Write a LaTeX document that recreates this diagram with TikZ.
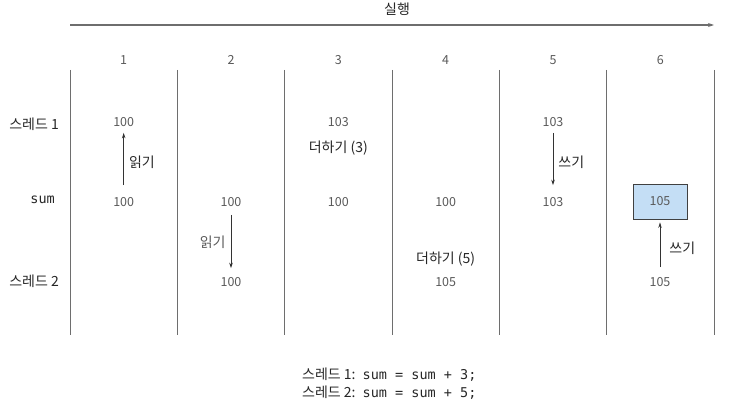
\documentclass[tikz,border=0pt]{standalone}
\usepackage{fontspec}
\setmainfont{Noto Sans CJK KR}
\setmonofont{DejaVu Sans Mono}
\usetikzlibrary{positioning,arrows.meta}
\definecolor{linegray}{HTML}{6E6E6E}
\definecolor{textgray}{HTML}{595959}
\definecolor{boxblue}{HTML}{C4DEF5}

\begin{document}
\begin{tikzpicture}[x=1pt, y=-1pt,
  val/.style = {text = textgray, font = \fontsize{12.5}{14}\selectfont, inner sep = 1pt},
  lbl/.style = {text = black!85, font = \fontsize{14}{16}\selectfont, inner sep = 1pt},
  code/.style = {text = black!85, font = \fontsize{14}{16}\selectfont, inner sep = 1pt, anchor = west},
  op/.style = {-{Stealth[length = 5.5pt, width = 3.5pt]}, line width = 0.8pt, black!80}]
\useasboundingbox (0,0) rectangle (753,417);

% time axis
\coordinate (tl) at (70,25);
\coordinate (tr) at (714,25);
\draw[-{Stealth[length = 6pt, width = 4pt]}, linegray, line width = 1.3pt] (tl) -- (tr);
\node[lbl] (run) at (397,9) {실행};

% columns
\foreach \i in {0,...,6}
  \draw[linegray, line width = 0.9pt] (70+107.33*\i,70) -- (70+107.33*\i,335);
\foreach \i in {1,...,6}
  \node[val] (h\i) at (16.33+107.33*\i,60) {\i};

% rows
\node[lbl, anchor = east] (r1) at (60,124) {스레드 1};
\node[lbl, anchor = east] (rs) at (56,200) {\fontsize{13.5}{14}\selectfont\texttt{sum}};
\node[lbl, anchor = east] (r2) at (60,281) {스레드 2};

% values
\node[val] (a1) at (123.7,122) {100};
\node[val] (s1) at (123.7,202) {100};
\node[val] (s2) at (231,202) {100};
\node[val] (b2) at (231,282) {100};
\node[val] (a3) at (338.3,122) {103};
\node[lbl] (p3) at (338.3,148) {더하기 (3)};
\node[val] (s3) at (338.3,202) {100};
\node[val] (s4) at (445.7,202) {100};
\node[lbl] (p4) at (445.7,259) {더하기 (5)};
\node[val] (b4) at (445.7,282) {105};
\node[val] (a5) at (553,122) {103};
\node[val] (s5) at (553,202) {103};
\node[val, draw = black!75, fill = boxblue, line width = 0.8pt, minimum width = 54pt, minimum height = 35pt] (s6) at (660,201.5) {105};
\node[val] (b6) at (660,282) {105};

% reads and writes
\draw[op, shorten <= 11pt, shorten >= 5pt] (s1) -- (a1) node[midway, right = 4pt, lbl] {읽기};
\draw[op, shorten <= 7pt, shorten >= 8pt] (s2) -- (b2) node[midway, left = 4pt, lbl, text = textgray] {읽기};
\draw[op, shorten <= 5pt, shorten >= 11pt] (a5) -- (s5) node[midway, right = 4pt, lbl] {쓰기};
\draw[op, shorten <= 9pt, shorten >= 3pt] (b6) -- (s6) node[midway, right = 8pt, lbl] {쓰기};

% code
\node[code] (c1) at (301,375) {스레드 1:\enspace\fontsize{13.5}{14}\selectfont\texttt{sum = sum + 3;}};
\node[code] (c2) at (301,393) {스레드 2:\enspace\fontsize{13.5}{14}\selectfont\texttt{sum = sum + 5;}};
\end{tikzpicture}
\end{document}
